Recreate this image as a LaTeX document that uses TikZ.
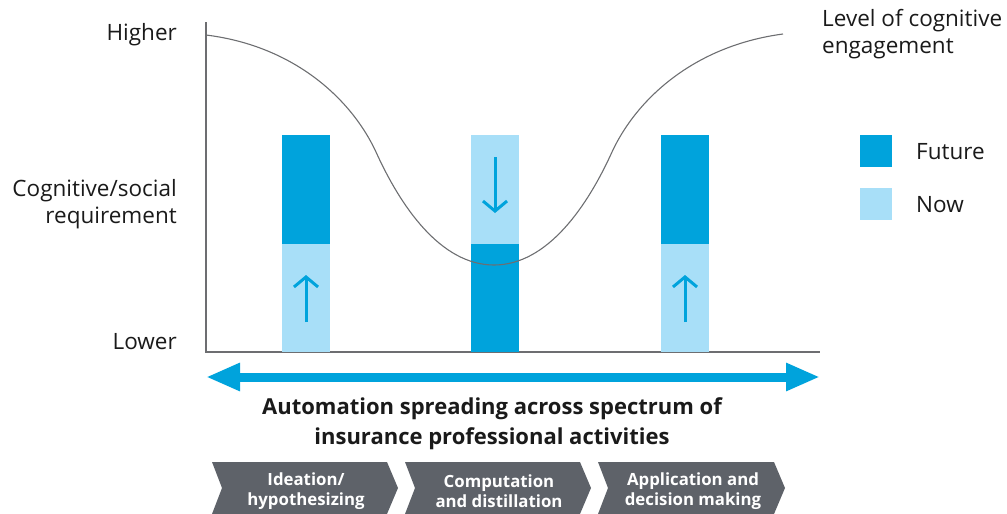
\documentclass[tikz,border=0pt]{standalone}
\usepackage{fontspec}
\setmainfont{Open Sans}
\usetikzlibrary{arrows.meta}
\definecolor{dblue}{HTML}{00A3DC}
\definecolor{lblue}{HTML}{A8DFF8}
\definecolor{axgray}{HTML}{6D6E71}
\definecolor{chev}{HTML}{5E6269}
\definecolor{txt}{HTML}{1A1A1A}
\tikzset{
  lbl/.style={text=txt,font=\fontsize{22.5}{27}\selectfont,inner sep=0pt},
  dbar/.style={fill=dblue,draw=none},
  lbar/.style={fill=lblue,draw=none},
  barrow/.style={draw=dblue,line width=3pt,-{Straight Barb[length=10pt,width=24pt,line width=3pt]}},
  chevtxt/.style={text=white,font=\bfseries\fontsize{16.8}{19.5}\selectfont,align=center,inner sep=0pt},
  chevshape/.style={fill=chev,draw=none}
}
\begin{document}
\begin{tikzpicture}[x=1pt,y=-1pt]
\useasboundingbox (0,0) rectangle (1007,514);
% axes
\coordinate (ytop) at (206,22);
\coordinate (orig) at (206,352);
\coordinate (xend) at (820,352);
\draw[axgray,line width=1.3pt] (ytop) -- (orig) -- (xend);
% bars
\foreach \x/\n/\topst/\botst in {282/a/dbar/lbar,471/b/lbar/dbar,661/c/dbar/lbar}{
  \path[\topst] (\x,135) rectangle (\x+48,244);
  \path[\botst] (\x,244) rectangle (\x+48,352);
}
% arrows inside bars
\coordinate (a1) at (306,322); \coordinate (a2) at (306,275);
\coordinate (b1) at (495,157); \coordinate (b2) at (495,213);
\coordinate (c1) at (685,322); \coordinate (c2) at (685,275);
\draw[barrow] (a1) -- (a2);
\draw[barrow] (b1) -- (b2);
\draw[barrow] (c1) -- (c2);
% curve
\draw[axgray,line width=1.1pt] (206,35) .. controls (295,46) and (352,100) .. (376,152)
  .. controls (400,205) and (440,265) .. (494,265)
  .. controls (548,265) and (588,205) .. (612,152)
  .. controls (636,100) and (693,46) .. (783,34);
% labels
\node[lbl,anchor=east] (hi) at (177,35) {Higher};
\node[lbl,anchor=east,align=right] (cog) at (177,204) {Cognitive/social\\requirement};
\node[lbl,anchor=east] (lo) at (177,342) {Lower};
\node[lbl,anchor=west,align=left] (lev) at (822,34) {Level of cognitive\\engagement};
% legend
\path[dbar] (860,135) rectangle (892,167);
\path[lbar] (860,188) rectangle (892,220);
\node[lbl,anchor=west] (fut) at (916,152) {Future};
\node[lbl,anchor=west] (now) at (916,205) {Now};
% double arrow
\coordinate (da1) at (206,377);
\coordinate (da2) at (820,377);
\draw[dblue,line width=9pt,{Triangle[length=34pt,width=26pt]}-{Triangle[length=34pt,width=26pt]}] (da1) -- (da2);
\node[text=txt,font=\bfseries\fontsize{22}{30}\selectfont,align=center,inner sep=0pt] (auto) at (492,424) {Automation spreading across spectrum of\\insurance professional activities};
% chevrons
\foreach \l/\r/\name in {212/387/ch1,405/580/ch2,598/774/ch3}{
  \path[chevshape] (\l,462) -- (\r,462) -- (\r+11,488) -- (\r,514) -- (\l,514) -- (\l+10,488) -- cycle;
}
\node[chevtxt] (t1) at (306,491) {Ideation/\\hypothesizing};
\node[chevtxt] (t2) at (499,491) {Computation\\and distillation};
\node[chevtxt] (t3) at (693,491) {Application and\\decision making};
\end{tikzpicture}
\end{document}
